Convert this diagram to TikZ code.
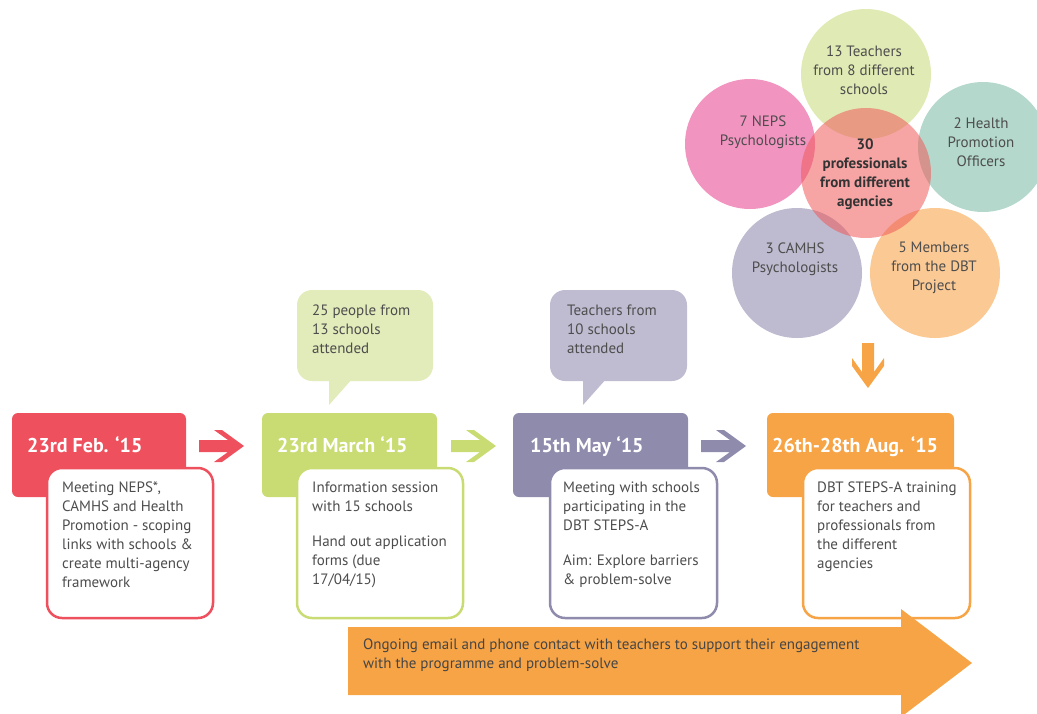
\documentclass[tikz,border=0pt]{standalone}
\usepackage{fontspec}
\setmainfont{PT Sans}
\definecolor{cred}{HTML}{EF505D}
\definecolor{cgreen}{HTML}{C9DC73}
\definecolor{cpurple}{HTML}{8E8BAD}
\definecolor{corange}{HTML}{F7A446}
\definecolor{cgreenlt}{HTML}{E2EBBA}
\definecolor{cpurplelt}{HTML}{BFBCD2}
\definecolor{ctext}{HTML}{4D4D4D}
\definecolor{ccgreen}{HTML}{E0EAB4}
\definecolor{ccpink}{HTML}{F294C0}
\definecolor{ccteal}{HTML}{B4D9CC}
\definecolor{ccpurple}{HTML}{BEBBD0}
\definecolor{ccorange}{HTML}{FBC994}
\definecolor{cccenter}{HTML}{F05A5A}
\begin{document}
\begin{tikzpicture}[x=1pt,y=-1pt,
  datebox/.style={fill=#1, rounded corners=6pt, inner sep=0pt, minimum height=84pt},
  infobox/.style={fill=white, draw=#1, line width=2.5pt, rounded corners=15pt, inner sep=0pt, minimum height=150pt},
  callout/.style={fill=#1, rounded corners=15pt, inner sep=0pt, minimum height=91pt},
  title/.style={text=white, font=\bfseries\fontsize{20}{24}\selectfont, anchor=base west, inner sep=0pt},
  body/.style={text=ctext, font=\fontsize{15}{19}\selectfont, align=left, anchor=north west, inner sep=0pt},
  circ/.style={circle, fill=#1, minimum size=130pt, inner sep=0pt},
  circtext/.style={text=ctext, font=\fontsize{15}{19}\selectfont, align=center, inner sep=0pt},
  chev/.pic={\path[pic actions] (0,-6)--(29,-6)--(15,-16)--(23,-16)--(45,0)--(23,16)--(15,16)--(29,6)--(0,6)--cycle;}
]
\clip (0,0) rectangle (1037,713);

% circles
\node[circ=ccgreen] (cg) at (866,74) {};
\node[circ=ccpink] (cp) at (750,144) {};
\node[circ=ccteal] (ct) at (983,147) {};
\node[circ=ccpurple] (cu) at (797,273) {};
\node[circ=ccorange] (co) at (935,273) {};
\node[circ=cccenter, fill opacity=0.55] (cc) at (866,173) {};
\node[circtext] (tg) at (864,70) {13 Teachers\\from 8 different\\schools};
\node[circtext] (tp) at (763,132) {7 NEPS\\Psychologists};
\node[circtext] (tt) at (981,142) {2 Health\\Promotion\\Officers};
\node[circtext] (tu) at (795,259) {3 CAMHS\\Psychologists};
\node[circtext] (to) at (934,268) {5 Members\\from the DBT\\Project};
\node[circtext, text=black!80, font=\bfseries\fontsize{15}{19}\selectfont] (tc) at (865,174) {30\\professionals\\from different\\agencies};

% callouts
\node[callout=cgreenlt, minimum width=136pt] (q2) at (365,335.5) {};
\fill[cgreenlt] (329,378) -- (329,405) -- (353,378) -- cycle;
\node[body] (q2t) at (312,305) {25 people from\\13 schools\\attended};
\node[callout=cpurplelt, minimum width=137pt] (q3) at (618.5,335.5) {};
\fill[cpurplelt] (583,378) -- (583,405) -- (607,378) -- cycle;
\node[body] (q3t) at (567,305) {Teachers from\\10 schools\\attended};

% date boxes
\node[datebox=cred, minimum width=174pt] (d1) at (99,455) {};
\node[datebox=cgreen, minimum width=175pt] (d2) at (349.5,455) {};
\node[datebox=cpurple, minimum width=175pt] (d3) at (600.5,455) {};
\node[datebox=corange, minimum width=187pt] (d4) at (860.5,455) {};
\node[title] (h1) at (27,452) {23rd Feb. ‘15};
\node[title] (h2) at (277,452) {23rd March ‘15};
\node[title] (h3) at (530,452) {15th May ‘15};
\node[title] (h4) at (772,452) {26th-28th Aug. ‘15};

% info boxes
\node[infobox=cred, minimum width=166pt] (w1) at (130,543) {};
\node[infobox=cgreen, minimum width=166pt] (w2) at (380,543) {};
\node[infobox=cpurple, minimum width=167pt] (w3) at (633.5,543) {};
\node[infobox=corange, minimum width=167pt] (w4) at (886.5,543) {};
\node[body] (b1) at (62,482) {Meeting NEPS*,\\CAMHS and Health\\Promotion - scoping\\links with schools \&\\create multi-agency\\framework};
\node[body] (b2) at (312,482) {Information session\\with 15 schools\\[16pt]Hand out application\\forms (due\\17/04/15)};
\node[body] (b3) at (563,482) {Meeting with schools\\participating in the\\DBT STEPS-A\\[16pt]Aim: Explore barriers\\\& problem-solve};
\node[body] (b4) at (817,482) {DBT STEPS-A training\\for teachers and\\professionals from\\the different\\agencies};

% arrows
\pic[fill=cred] at (199,446) {chev};
\pic[fill=cgreen] at (451,446) {chev};
\pic[fill=cpurple] at (701,446) {chev};
\pic[fill=corange, rotate=-90] at (868,343) {chev};

% big arrow
\fill[corange] (348,627) -- (901,627) -- (901,609) -- (972,663) -- (901,717) -- (901,695) -- (348,695) -- cycle;
\node[body, anchor=west, text=ctext!90!black] (ba) at (363,655) {Ongoing email and phone contact with teachers to support their engagement\\with the programme and problem-solve};
\end{tikzpicture}
\end{document}
